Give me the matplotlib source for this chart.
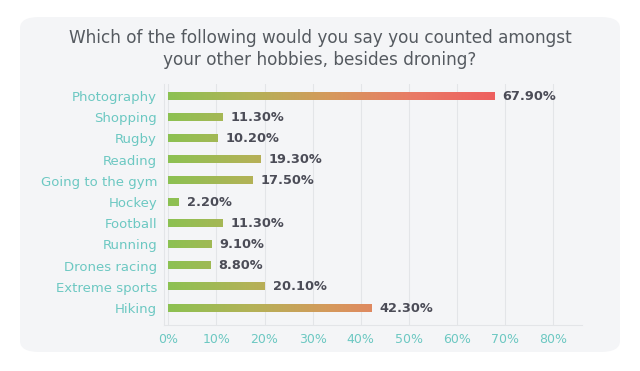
import matplotlib.pyplot as plt
import numpy as np
from matplotlib.colors import LinearSegmentedColormap
from matplotlib.patches import FancyBboxPatch

hobbies = ["Photography", "Shopping", "Rugby", "Reading", "Going to the gym",
           "Hockey", "Football", "Running", "Drones racing", "Extreme sports",
           "Hiking"]
shares = [67.9, 11.3, 10.2, 19.3, 17.5, 2.2, 11.3, 9.1, 8.8, 20.1, 42.3]
xticks = [0, 10, 20, 30, 40, 50, 60, 70, 80]

title = "Which of the following would you say you counted amongst\nyour other hobbies, besides droning?"

teal = "#6cc8c2"
dark = "#4b4c57"
grad = LinearSegmentedColormap.from_list(
    "g", ["#8cc152", "#b3b257", "#d6985c", "#e97a66", "#ee5f5f"])

fig = plt.figure(figsize=(6.4, 3.71), dpi=100)
fig.patch.set_facecolor("white")

# rounded panel behind everything
panel = FancyBboxPatch((20 / 640, 19 / 371), 600 / 640, 335 / 371,
                       boxstyle="round,pad=0,rounding_size=0.03",
                       transform=fig.transFigure, facecolor="#f4f5f7",
                       edgecolor="none", zorder=-5)
fig.patches.append(panel)

fig.text(0.5, 1 - 49 / 371, title, ha="center", va="center", fontsize=12.2,
         color="#555a60", linespacing=1.35)

ax = fig.add_axes([164 / 640, 46 / 371, (582 - 164) / 640, (325 - 84) / 371])
ax.set_facecolor("none")

n = len(hobbies)
ypos = np.arange(n)
h = 0.34
gx = np.linspace(0, 1, 256).reshape(1, -1)
for y, v in zip(ypos, shares):
    ax.imshow(gx[:, : max(2, int(256 * v / 68))], cmap=grad, vmin=0, vmax=1,
              extent=[0, v, y + h / 2, y - h / 2], aspect="auto", zorder=2,
              interpolation="bilinear")
    ax.text(v + 1.6, y, f"{v:.2f}%", va="center", ha="left", fontsize=9.3,
            color=dark, fontweight="bold", zorder=3)

ax.set_xlim(-0.9, 86)
ax.set_ylim(n - 1 + 0.8, -0.57)
ax.set_yticks(ypos)
ax.set_yticklabels(hobbies, color=teal, fontsize=9.5)
ax.set_xticks(xticks)
ax.set_xticklabels([f"{t}%" for t in xticks], color=teal, fontsize=9)
ax.tick_params(length=0, pad=5)
ax.tick_params(axis="x", pad=6)
ax.grid(axis="x", color="#e3e5e8", linewidth=0.8, zorder=1)
ax.set_axisbelow(True)
for s in ["top", "right"]:
    ax.spines[s].set_visible(False)
ax.spines["left"].set_color("#e3e5e8")
ax.spines["bottom"].set_color("#e3e5e8")

fig.savefig("out.png", dpi=100)
